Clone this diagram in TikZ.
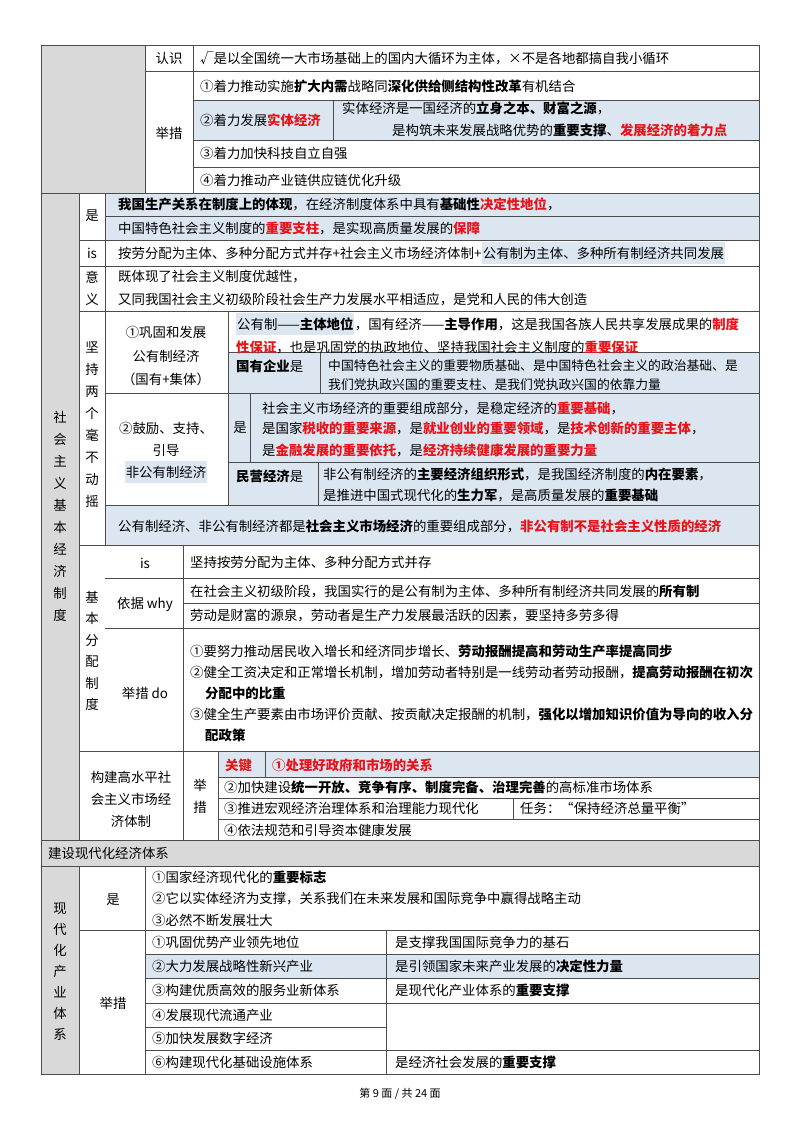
\documentclass[tikz,border=0pt]{standalone}
\usepackage{fontspec}
\setmainfont{Noto Sans CJK SC}
\definecolor{gr}{HTML}{D9D9D9}
\definecolor{bl}{HTML}{DCE6F1}
\definecolor{rd}{HTML}{E8141B}
\newcommand\bb[1]{\textbf{#1}}
\newcommand\rb[1]{\textcolor{rd}{\textbf{#1}}}
\tikzset{t/.style={anchor=west,inner sep=0pt,font=\fontsize{13.4}{15}\selectfont},
 c/.style={anchor=center,align=center,inner sep=0pt,font=\fontsize{13.4}{22}\selectfont},
 hl/.style={fill=bl,inner ysep=5pt,inner xsep=1pt},
 ln/.style={draw=black!70,line width=0.7pt}}
\begin{document}
\begin{tikzpicture}[x=1pt,y=-1pt]
\useasboundingbox (0,0) rectangle (800,1132);
\fill[white] (0,0) rectangle (800,1132);
% fills
\fill[gr] (41,45) rectangle (145,193);
\fill[gr] (41,193) rectangle (79,840);
\fill[gr] (41,840) rectangle (759,866);
\fill[gr] (41,866) rectangle (79,1074);
\fill[bl] (193,100) rectangle (759,140);
\fill[bl] (105,193) rectangle (759,240);
\fill[bl] (228,352) rectangle (759,505);
\fill[bl] (105,505) rectangle (759,545);
\fill[bl] (218,751) rectangle (759,777);
\fill[bl] (145,954) rectangle (759,978);
% lines
\begin{scope}[ln]
\draw (41,45) rectangle (759,1074);
\draw (145,71) -- (759,71);
\foreach \y in {100,140,167} \draw (193,\y) -- (759,\y);
\draw (41,193) -- (759,193);
\draw (145,45) -- (145,193);
\draw (193,45) -- (193,193);
\draw (333,100) -- (333,140);
\draw (79,193) -- (79,840);
\draw (105,193) -- (105,545);
\draw (105,216) -- (759,216);
\foreach \y in {240,266,311,545,751} \draw (79,\y) -- (759,\y);
\draw (41,840) -- (759,840);
\draw (228,311) -- (228,505);
\draw (228,352) -- (759,352);
\draw (105,393) -- (759,393);
\draw (228,462) -- (759,462);
\draw (105,505) -- (759,505);
\draw (320,352) -- (320,393);
\draw (250,393) -- (250,462);
\draw (318,462) -- (318,505);
\draw (183,545) -- (183,840);
\draw (105,578) -- (759,578);
\draw (183,603) -- (759,603);
\draw (105,628) -- (759,628);
\draw (218,751) -- (218,840);
\foreach \y in {777,798,819} \draw (218,\y) -- (759,\y);
\draw (265,751) -- (265,777);
\draw (513,798) -- (513,819);
\draw (41,866) -- (759,866);
\draw (79,866) -- (79,1074);
\draw (145,866) -- (145,1074);
\draw (79,930) -- (759,930);
\foreach \y in {954,978,1003,1050} \draw (145,\y) -- (759,\y);
\draw (145,1027) -- (386,1027);
\draw (386,930) -- (386,1074);
\end{scope}
% top section
\node[c] (a1) at (169,58) {认识};
\node[t] (a2) at (200,58) {√是以全国统一大市场基础上的国内大循环为主体，×不是各地都搞自我小循环};
\node[c] (a3) at (169,133) {举措};
\node[t] (a4) at (200,86) {①着力推动实施\bb{扩大内需}战略同\bb{深化供给侧结构性改革}有机结合};
\node[t] (a5) at (200,120) {②着力发展\rb{实体经济}};
\node[t] (a6) at (342,108) {实体经济是一国经济的\bb{立身之本、财富之源}，};
\node[t] (a7) at (392,130) {是构筑未来发展战略优势的\bb{重要支撑}、\rb{发展经济的着力点}};
\node[t] (a8) at (200,153) {③着力加快科技自立自强};
\node[t] (a9) at (200,180) {④着力推动产业链供应链优化升级};
% 社会主义基本经济制度
\node[c] (b0) at (60,516) {社\\会\\主\\义\\基\\本\\经\\济\\制\\度};
\node[c] (b1) at (92,216) {是};
\node[t] (b2) at (118,204) {\bb{我国生产关系在制度上的体现}，在经济制度体系中具有\bb{基础性}\rb{决定性地位}，};
\node[t] (b3) at (118,228) {中国特色社会主义制度的\rb{重要支柱}，是实现高质量发展的\rb{保障}};
\node[c] (b4) at (92,253) {is};
\node[t] (b5) at (118,253) {按劳分配为主体、多种分配方式并存+社会主义市场经济体制+};
\node[t,hl,anchor=west] (b5b) at (b5.east) {公有制为主体、多种所有制经济共同发展};
\node[c] (b6) at (92,288) {意\\义};
\node[t] (b7) at (118,277) {既体现了社会主义制度优越性，};
\node[t] (b8) at (118,300) {又同我国社会主义初级阶段社会生产力发展水平相适应，是党和人民的伟大创造};
\node[c] (c0) at (92,425) {坚\\持\\两\\个\\毫\\不\\动\\摇};
\node[c,font=\fontsize{13.4}{23.5}\selectfont] (c1) at (166,356) {①巩固和发展\\公有制经济\\（国有+集体）};
\node[t,hl] (c2a) at (236,324) {公有制——\bb{主体地位}};
\node[t,anchor=west] (c2) at (c2a.east) {，国有经济——\bb{主导作用}，这是我国各族人民共享发展成果的\rb{制度}};
\node[t] (c3) at (236,347) {\rb{性保证}，也是巩固党的执政地位、坚持我国社会主义制度的\rb{重要保证}};
\node[t] (c4) at (236,366) {\bb{国有企业}是};
\node[t,font=\fontsize{12.8}{15}\selectfont] (c5) at (328,366) {中国特色社会主义的重要物质基础、是中国特色社会主义的政治基础、是};
\node[t,font=\fontsize{12.8}{15}\selectfont] (c6) at (328,385) {我们党执政兴国的重要支柱、是我们党执政兴国的依靠力量};
\node[c] (c7a) at (166,428) {②鼓励、支持、};
\node[c] (c7b) at (166,450) {引导};
\node[c,hl] (c7c) at (166,472) {非公有制经济};
\node[c] (c8) at (240,428) {是};
\node[t] (c9) at (262,408) {社会主义市场经济的重要组成部分，是稳定经济的\rb{重要基础}，};
\node[t] (c10) at (262,428) {是国家\rb{税收的重要来源}，是\rb{就业创业的重要领域}，是\rb{技术创新的重要主体}，};
\node[t] (c11) at (262,450) {是\rb{金融发展的重要依托}，是\rb{经济持续健康发展的重要力量}};
\node[t] (c12) at (236,476) {\bb{民营经济}是};
\node[t] (c13) at (323,474) {非公有制经济的\bb{主要经济组织形式}，是我国经济制度的\bb{内在要素}，};
\node[t] (c14) at (323,495) {是推进中国式现代化的\bb{生力军}，是高质量发展的\bb{重要基础}};
\node[t] (c15) at (118,526) {公有制经济、非公有制经济都是\bb{社会主义市场经济}的重要组成部分，\rb{非公有制不是社会主义性质的经济}};
% 基本分配制度
\node[c,font=\fontsize{13.4}{21.5}\selectfont] (d0) at (92,651) {基\\本\\分\\配\\制\\度};
\node[c] (d1) at (145,563) {is};
\node[t] (d2) at (190,562) {坚持按劳分配为主体、多种分配方式并存};
\node[c] (d3) at (145,604) {依据 why};
\node[t] (d4) at (190,591) {在社会主义初级阶段，我国实行的是公有制为主体、多种所有制经济共同发展的\bb{所有制}};
\node[t] (d5) at (190,616) {劳动是财富的源泉，劳动者是生产力发展最活跃的因素，要坚持多劳多得};
\node[c] (d6) at (145,693) {举措 do};
\node[t] (d7) at (190,651) {①要努力推动居民收入增长和经济同步增长、\bb{劳动报酬提高和劳动生产率提高同步}};
\node[t] (d8) at (190,672) {②健全工资决定和正常增长机制，增加劳动者特别是一线劳动者劳动报酬，\bb{提高劳动报酬在初次}};
\node[t] (d9) at (205,693) {\bb{分配中的比重}};
\node[t] (d10) at (190,714) {③健全生产要素由市场评价贡献、按贡献决定报酬的机制，\bb{强化以增加知识价值为导向的收入分}};
\node[t] (d11) at (205,735) {\bb{配政策}};
% 构建
\node[c] (e0) at (131,799) {构建高水平社\\会主义市场经\\济体制};
\node[c] (e1) at (200,796) {举\\措};
\node[t] (e2) at (225,765) {\rb{关键}};
\node[t] (e3) at (272,765) {\rb{①处理好政府和市场的关系}};
\node[t] (e4) at (224,787) {②加快建设\bb{统一开放、竞争有序、制度完备、治理完善}的高标准市场体系};
\node[t] (e5) at (224,808) {③推进宏观经济治理体系和治理能力现代化};
\node[t] (e6) at (520,808) {任务：“保持经济总量平衡”};
\node[t] (e7) at (224,830) {④依法规范和引导资本健康发展};
% 现代化经济体系
\node[t] (f0) at (48,853) {建设现代化经济体系};
\node[c,font=\fontsize{13.4}{21}\selectfont] (f1) at (60,972) {现\\代\\化\\产\\业\\体\\系};
\node[c] (f2) at (113,900) {是};
\node[t] (f3) at (152,877) {①国家经济现代化的\bb{重要标志}};
\node[t] (f4) at (152,899) {②它以实体经济为支撑，关系我们在未来发展和国际竞争中赢得战略主动};
\node[t] (f5) at (152,920) {③必然不断发展壮大};
\node[c] (f6) at (113,1003) {举措};
\node[t] (g1) at (152,942) {①巩固优势产业领先地位};
\node[t] (g2) at (152,966) {②大力发展战略性新兴产业};
\node[t] (g3) at (152,990) {③构建优质高效的服务业新体系};
\node[t] (g4) at (152,1015) {④发展现代流通产业};
\node[t] (g5) at (152,1038) {⑤加快发展数字经济};
\node[t] (g6) at (152,1062) {⑥构建现代化基础设施体系};
\node[t] (h1) at (395,942) {是支撑我国国际竞争力的基石};
\node[t] (h2) at (395,966) {是引领国家未来产业发展的\bb{决定性力量}};
\node[t] (h3) at (395,990) {是现代化产业体系的\bb{重要支撑}};
\node[t] (h4) at (395,1062) {是经济社会发展的\bb{重要支撑}};
\node[c,font=\fontsize{11}{13}\selectfont] (ft) at (400,1094) {第 9 面 / 共 24 面};
\end{tikzpicture}
\end{document}
